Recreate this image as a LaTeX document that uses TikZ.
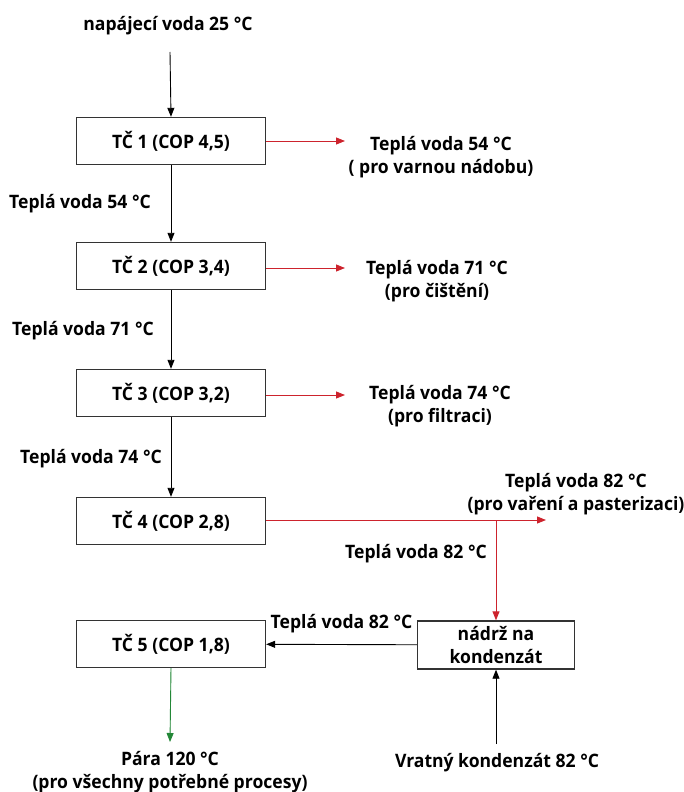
\documentclass[tikz,border=0pt]{standalone}
\usepackage{fontspec}
\setmainfont{Open Sans}[FakeStretch=0.95,UprightFont=* Bold]
\usetikzlibrary{arrows.meta}
\definecolor{hotred}{RGB}{205,35,45}
\definecolor{steamgreen}{RGB}{35,135,55}
\begin{document}
\begin{tikzpicture}[x=1pt,y=-1pt,
    font=\fontsize{18.5}{23}\selectfont,
    box/.style={draw=black!80,line width=1.4pt,minimum width=189pt,minimum height=47pt,inner sep=0pt},
    tank/.style={box,minimum width=157pt,minimum height=48pt,align=center},
    lbl/.style={inner sep=0pt,align=center},
    flow/.style={-{Triangle[length=9pt,width=7pt]},line width=0.9pt},
    hot/.style={flow,draw=hotred,fill=hotred},
    steam/.style={flow,draw=steamgreen,fill=steamgreen}]
    \useasboundingbox (0,0) rectangle (683,792);
    % feed water
    \node[lbl] (feed) at (168,26) {napájecí voda 25 °C};
    \coordinate (feedend) at (170,52);
    % heat pumps
    \node[box] (tc1) at (171,141) {TČ 1 (COP 4,5)};
    \node[box] (tc2) at (171,266) {TČ 2 (COP 3,4)};
    \node[box] (tc3) at (171,393) {TČ 3 (COP 3,2)};
    \node[box] (tc4) at (171,521) {TČ 4 (COP 2,8)};
    \node[box] (tc5) at (171,644) {TČ 5 (COP 1,8)};
    \node[tank] (tank) at (496,645) {nádrž na\\kondenzát};
    % outputs
    \node[lbl] (out1) at (441,157) {Teplá voda 54 °C\\( pro varnou nádobu)};
    \node[lbl] (out2) at (437,281) {Teplá voda 71 °C\\(pro čištění)};
    \node[lbl] (out3) at (440,406) {Teplá voda 74 °C\\(pro filtraci)};
    \node[lbl] (out4) at (576,494) {Teplá voda 82 °C\\(pro vaření a pasterizaci)};
    \node[lbl] (steamout) at (170,772) {Pára 120 °C\\(pro všechny potřebné procesy)};
    \node[lbl] (ret) at (497,763) {Vratný kondenzát 82 °C};
    \coordinate (e1) at (345,141);
    \coordinate (e2) at (345,268);
    \coordinate (e3) at (345,395);
    \coordinate (e4) at (546,520);
    \coordinate (j4) at (496,520);
    \coordinate (s5) at (170,742);
    \coordinate (r5) at (496,744);
    % main chain
    \draw[flow] (feedend) -- (tc1.north);
    \draw[flow] (tc1) -- (tc2) node[lbl,pos=0.5,xshift=-91pt] {Teplá voda 54 °C};
    \draw[flow] (tc2) -- (tc3) node[lbl,pos=0.52,xshift=-88pt] {Teplá voda 71 °C};
    \draw[flow] (tc3) -- (tc4) node[lbl,pos=0.52,xshift=-80pt] {Teplá voda 74 °C};
    % hot water branches
    \draw[hot] (tc1.east) -- (e1);
    \draw[hot] (tc2.east |- e2) -- (e2);
    \draw[hot] (tc3.east |- e3) -- (e3);
    \draw[hot] (tc4.east |- e4) -- (e4);
    \draw[hot] (j4) -- (tank.north) node[lbl,pos=0.34,xshift=-80pt,text=black] {Teplá voda 82 °C};
    % condensate
    \draw[flow] (tank) -- (tc5) node[lbl,pos=0.5,yshift=21pt] {Teplá voda 82 °C};
    \draw[flow] (r5) -- (tank.south);
    \draw[steam] (tc5.south) -- (s5);
\end{tikzpicture}
\end{document}
